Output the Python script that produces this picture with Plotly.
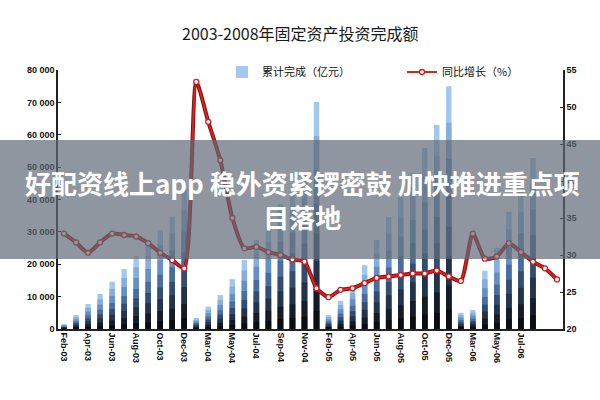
import plotly.graph_objects as go

# ---------------- data ----------------
months = ["Feb", "Mar", "Apr", "May", "Jun", "Jul", "Aug", "Sep", "Oct", "Nov", "Dec"]
years = ["03", "04", "05", "06"]
categories = [f"{m}-{y}" for y in years for m in months][:42]  # Feb-03 .. Oct-06

# cumulative completed investment (亿元)
invest_2003 = [1500, 4300, 7700, 10800, 14600, 18500, 22500, 26500, 30500, 34700, 43000]
invest_2004 = [3400, 6900, 10500, 15400, 21300, 27500, 31500, 38500, 42500, 48000, 70100]
invest_2005 = [4300, 8700, 13100, 19700, 27500, 34600, 40800, 48100, 55900, 63000, 75000]
invest_2006 = [5000, 5900, 18000, 25000, 36200, 42400, 52800, None, None]
invest = invest_2003 + invest_2004 + invest_2005 + invest_2006

# year-on-year growth (%)
growth = [32.9, 31.7, 30.3, 31.7, 32.9, 32.7, 32.5, 31.6, 30.3, 29.3, 28.2,
          53.4, 48.0, 42.8, 35.0, 30.9, 31.1, 30.4, 30.0, 29.4, 29.1, 25.5,
          24.3, 25.3, 25.5, 26.2, 26.9, 27.1, 27.3, 27.5, 27.5, 27.9, 27.1,
          26.5, 32.9, 29.5, 29.8, 31.6, 30.4, 29.1, 28.2, 26.7]

tick_labels = categories[0:40:2]

title_text = "2003-2008年固定资产投资完成额"
bar_name = "累计完成（亿元）"
line_name = "同比增长（%）"
banner_text = "好配资线上app 稳外资紧锣密鼓 加快推进重点项<br>目落地"

# ---------------- styling ----------------
grad = [(1.00, "#a3c8ee"), (0.85, "#86addb"), (0.70, "#6690c4"), (0.55, "#4a6e9c"),
        (0.42, "#324d70"), (0.30, "#22334a"), (0.18, "#151c27"), (0.08, "#0b0d11")]
CJK = "Noto Sans CJK SC"

fig = go.Figure()
for i, (frac, col) in enumerate(grad):
    vals = [None if v is None else v * frac for v in invest]
    fig.add_trace(go.Bar(
        x=categories, y=vals, width=0.45, marker=dict(color=col, line=dict(width=0)),
        name=bar_name, showlegend=(i == 0), legend="legend", yaxis="y"))

fig.add_trace(go.Scatter(
    x=categories, y=growth, yaxis="y2", mode="lines", showlegend=False,
    line=dict(color="#7a1515", width=4, shape="spline", smoothing=0.6)))
fig.add_trace(go.Scatter(
    x=categories, y=growth, yaxis="y2", mode="lines+markers", name=line_name,
    legend="legend2",
    line=dict(color="#e01f1f", width=2, shape="spline", smoothing=0.6),
    marker=dict(symbol="circle", size=5, color="white", line=dict(color="#d21c1c", width=1.3))))

W, H = 600, 400
L, R, T, B = 58, 37, 70, 71
pw, ph = W - L - R, H - T - B

def px_x(x):
    return (x - L) / pw

def px_y(y):
    return (H - B - y) / ph

axis_font = dict(family="Liberation Sans", size=9, color="#111", weight="bold")
legend_font = dict(family=CJK, size=11, color="#111")

fig.update_layout(
    width=W, height=H, autosize=False,
    margin=dict(l=L, r=R, t=T, b=B),
    paper_bgcolor="white", plot_bgcolor="white",
    barmode="overlay",
    separators=". ",
    showlegend=True,
    legend=dict(orientation="h", x=px_x(222), xanchor="left", y=px_y(72), yanchor="middle",
                font=legend_font, bgcolor="rgba(0,0,0,0)"),
    legend2=dict(orientation="h", x=px_x(402), xanchor="left", y=px_y(72), yanchor="middle",
                 font=legend_font, bgcolor="rgba(0,0,0,0)"),
    xaxis=dict(type="category", range=[-0.5, 41.5], tickmode="array",
               tickvals=tick_labels, ticktext=tick_labels, tickangle=90,
               tickfont=axis_font, showline=True, linecolor="#222", linewidth=1.5,
               ticks="", showgrid=False, zeroline=False),
    yaxis=dict(range=[0, 80000], dtick=10000, tickformat=",d", tickfont=axis_font,
               showline=True, linecolor="#222", linewidth=1.5, ticks="inside",
               ticklen=3, tickcolor="#222", showgrid=False, zeroline=False),
    yaxis2=dict(range=[20, 55], dtick=5, overlaying="y", side="right", tickfont=axis_font,
                showline=True, linecolor="#222", linewidth=1.5, ticks="inside",
                ticklen=3, tickcolor="#222", showgrid=False, zeroline=False),
    shapes=[dict(type="rect", xref="paper", yref="paper", layer="above",
                 x0=px_x(0), x1=px_x(W), y0=px_y(259), y1=px_y(140),
                 fillcolor="rgba(95,105,118,0.7)", line=dict(width=0))],
    annotations=[
        dict(text=title_text, xref="paper", yref="paper", x=px_x(300), y=px_y(33),
             xanchor="center", yanchor="middle", showarrow=False,
             font=dict(family=CJK, size=16, color="#1a1a1a")),
        dict(text=banner_text, xref="paper", yref="paper", x=px_x(302), y=px_y(199),
             xanchor="center", yanchor="middle", showarrow=False, align="center",
             font=dict(family=CJK, size=26, color="white", weight="bold")),
    ],
)

fig.write_html("out.html")
